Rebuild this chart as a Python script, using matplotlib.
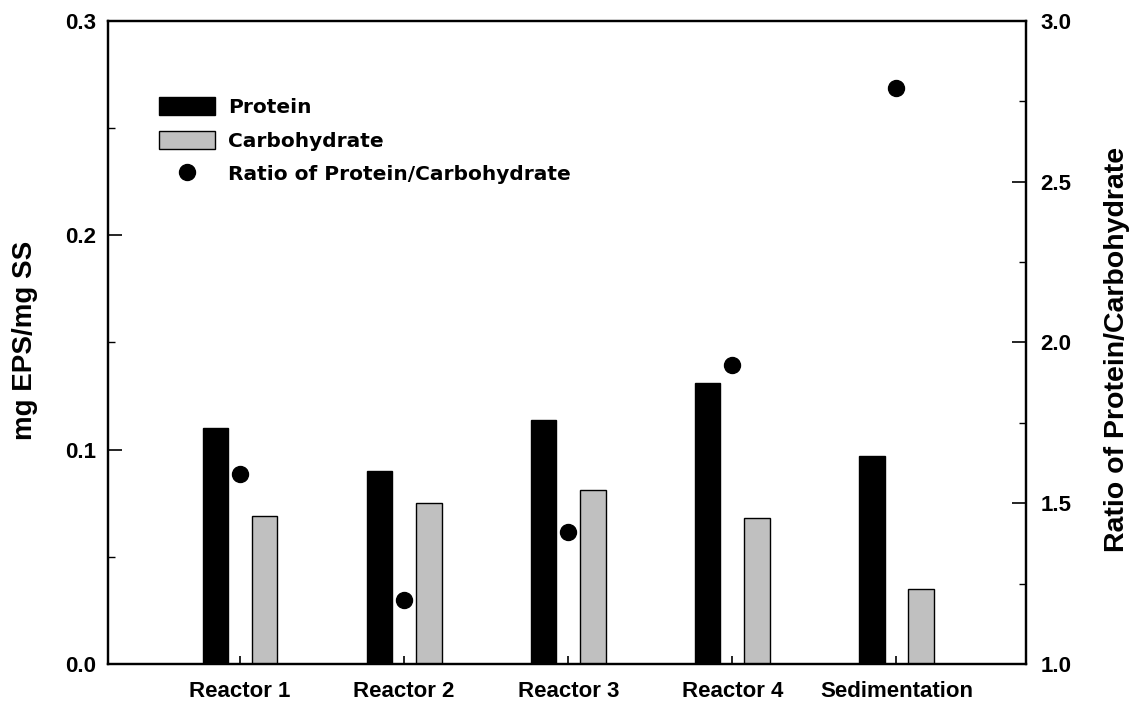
import matplotlib
matplotlib.use("Agg")
import matplotlib.pyplot as plt
from matplotlib.ticker import MultipleLocator
from matplotlib.patches import Patch
from matplotlib.lines import Line2D

categories = ["Reactor 1", "Reactor 2", "Reactor 3", "Reactor 4", "Sedimentation"]
protein = [0.110, 0.090, 0.114, 0.131, 0.097]
carbohydrate = [0.069, 0.075, 0.081, 0.068, 0.035]
ratio = [1.59, 1.20, 1.41, 1.93, 2.79]

plt.rcParams['font.family'] = ['Liberation Sans', 'DejaVu Sans']
plt.rcParams['font.weight'] = 'bold'
WIDE = ['DejaVu Sans']

fig = plt.figure(figsize=(11.37, 7.04), dpi=100)
ax = fig.add_axes([0.095, 0.0568, 0.8074, 0.9134])
x = list(range(1, len(categories) + 1))
w = 0.155
off = 0.15
ax.bar([i - off for i in x], protein, width=w, color='black', edgecolor='black', linewidth=1, label='Protein')
ax.bar([i + off for i in x], carbohydrate, width=w, color='#c0c0c0', edgecolor='black', linewidth=1, label='Carbohydrate')
ax.set_xlim(0.195, 5.79)
ax.set_ylim(0, 0.3)
ax.set_xticks(x)
ax.set_xticklabels(categories, fontsize=16, fontweight='bold')
ax.yaxis.set_minor_locator(MultipleLocator(0.05))
ax.set_yticks([0.0, 0.1, 0.2, 0.3])
ax.set_yticklabels(['0.0', '0.1', '0.2', '0.3'], fontsize=16, fontweight='bold')
ax.tick_params(axis='x', which='major', direction='in', length=6, width=1.2, pad=12)
ax.tick_params(axis='y', which='major', direction='in', length=10, width=1.2, pad=8.5)
ax.tick_params(axis='y', which='minor', direction='in', length=5, width=1.0)
for s in ax.spines.values():
    s.set_linewidth(1.6)

ax2 = ax.twinx()
ax2.plot(x, ratio, 'o', color='black', markersize=11.5, linestyle='none')
ax2.set_ylim(1.0, 3.0)
ax2.yaxis.set_minor_locator(MultipleLocator(0.25))
ax2.set_yticks([1.0, 1.5, 2.0, 2.5, 3.0])
ax2.set_yticklabels(['1.0', '1.5', '2.0', '2.5', '3.0'], fontsize=16, fontweight='bold')
ax2.tick_params(axis='y', which='major', direction='in', length=10, width=1.2, pad=10.5)
ax2.tick_params(axis='y', which='minor', direction='in', length=5, width=1.0)
for s in ax2.spines.values():
    s.set_linewidth(1.6)

fig.text(25 / 1137, 1 - 340 / 704, 'mg EPS/mg SS', rotation=90, ha='center', va='center',
         fontsize=20, fontweight='bold')
fig.text(1117 / 1137, 1 - 349 / 704, 'Ratio of Protein/Carbohydrate', rotation=90, ha='center', va='center',
         fontsize=20.5, fontweight='bold')

handles = [Patch(facecolor='black', edgecolor='black', linewidth=1),
           Patch(facecolor='#c0c0c0', edgecolor='black', linewidth=1),
           Line2D([], [], marker='o', color='black', linestyle='none', markersize=11.5)]
labels = ['Protein', 'Carbohydrate', 'Ratio of Protein/Carbohydrate']
leg = ax.legend(handles, labels, loc='upper left', bbox_to_anchor=(0.047, 0.894), frameon=False,
                prop={'family': WIDE, 'size': 14.5, 'weight': 'bold'},
                handlelength=2.78, handleheight=1.0, handletextpad=0.65, labelspacing=0.67,
                borderaxespad=0)

fig.savefig('out.png', dpi=100)
